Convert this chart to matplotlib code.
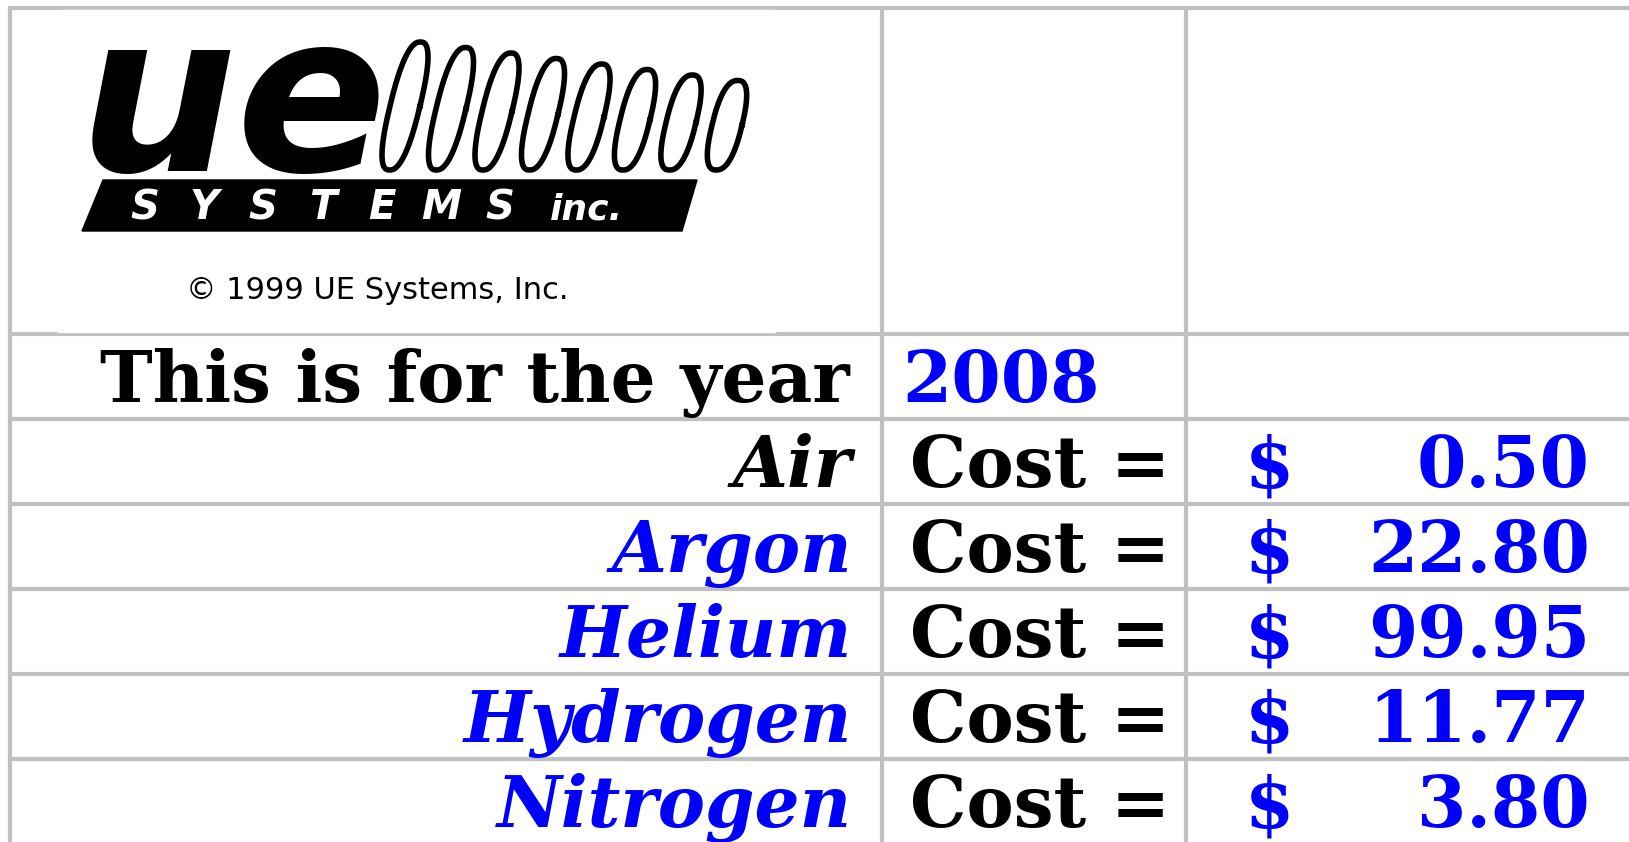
import matplotlib
matplotlib.use("Agg")
import matplotlib.pyplot as plt
from matplotlib.patches import Polygon, Rectangle
import numpy as np

# table content
year = "2008"
year_label = "This is for the year"
gases = ["Air", "Argon", "Helium", "Hydrogen", "Nitrogen"]
costs = [0.50, 22.80, 99.95, 11.77, 3.80]
gas_colors = ["black", "blue", "blue", "blue", "blue"]
cost_label = "Cost ="
currency = "$"
copyright_text = "\u00a9 1999 UE Systems, Inc."

W, H, DPI = 1629, 842, 100
GRID = "#c0c0c0"
BLUE = "#0000ff"

fig = plt.figure(figsize=(W / DPI, H / DPI), dpi=DPI)
ax = fig.add_axes([0, 0, 1, 1])
ax.set_xlim(0, W)
ax.set_ylim(H, 0)
ax.axis("off")

# grid of the sheet
col_lines = [10, 882, 1186]
row_lines = [8, 334, 419, 504, 589, 674, 759]
for x in col_lines:
    ax.plot([x, x], [row_lines[0] - 2, H], color=GRID, lw=3, solid_capstyle="butt", zorder=1)
for y in row_lines:
    ax.plot([col_lines[0] - 2, W], [y, y], color=GRID, lw=3, solid_capstyle="butt", zorder=1)

# logo block
ax.add_patch(Rectangle((58, 10), 717, 322, color="white", zorder=2))
ax.text(79, 171, "ue", fontsize=160, fontweight="heavy", style="italic",
        family="DejaVu Sans", color="black", ha="left", va="baseline", zorder=3)

n_loops = 8
for i in range(n_loops):
    cx = 405 + i * 46
    top = 42 + i * 5.5
    bottom = 170
    cy, b = (top + bottom) / 2, (bottom - top) / 2
    t = np.linspace(0, 2 * np.pi, 200)
    c, s = np.cos(t), np.sin(t)
    xo = 15 * np.sign(c) * np.abs(c) ** 0.8
    yo = b * np.sign(s) * np.abs(s) ** 0.8
    ax.plot(cx + xo - 0.24 * yo, cy + yo, color="black", lw=4, zorder=3)

ax.add_patch(Polygon([(103, 180), (697, 180), (682, 231), (82, 231)],
                     closed=True, color="black", zorder=3))
sys_x = np.linspace(145, 500, 7)
for ch, x in zip("SYSTEMS", sys_x):
    ax.text(x, 219, ch, fontsize=29, fontweight="heavy", style="italic",
            color="white", ha="center", va="baseline", zorder=4)
ax.text(550, 219, "inc.", fontsize=26, fontweight="heavy", style="italic",
        color="white", ha="left", va="baseline", zorder=4)
ax.text(377, 299, copyright_text, fontsize=22, family="DejaVu Sans",
        color="black", ha="center", va="baseline", zorder=4)

# table text
FS = 51
cap = FS / 72 * DPI * 0.729


def baseline(row):
    return (row_lines[row] + row_lines[row + 1]) / 2 + cap / 2


ax.text(850, baseline(1), year_label, fontsize=FS, fontweight="bold", family="DejaVu Serif",
        color="black", ha="right", va="baseline", zorder=4)
ax.text(902, baseline(1), year, fontsize=FS, fontweight="bold", family="DejaVu Serif",
        color=BLUE, ha="left", va="baseline", zorder=4)

for i, (gas, cost, col) in enumerate(zip(gases, costs, gas_colors)):
    row = i + 2
    yb = baseline(row) if row + 1 < len(row_lines) else (row_lines[row] + 85 / 2 + cap / 2)
    ax.text(852, yb, gas, fontsize=FS, fontweight="bold", style="italic", family="DejaVu Serif",
            color=col if col == "black" else BLUE, ha="right", va="baseline", zorder=4)
    ax.text(910, yb, cost_label, fontsize=FS, fontweight="bold", family="DejaVu Serif",
            color="black", ha="left", va="baseline", zorder=4)
    ax.text(1245, yb, currency, fontsize=FS, fontweight="bold", family="DejaVu Serif",
            color=BLUE, ha="left", va="baseline", zorder=4)
    ax.text(1590, yb, f"{cost:.2f}", fontsize=FS, fontweight="bold", family="DejaVu Serif",
            color=BLUE, ha="right", va="baseline", zorder=4)

fig.savefig("out.png", dpi=DPI)
